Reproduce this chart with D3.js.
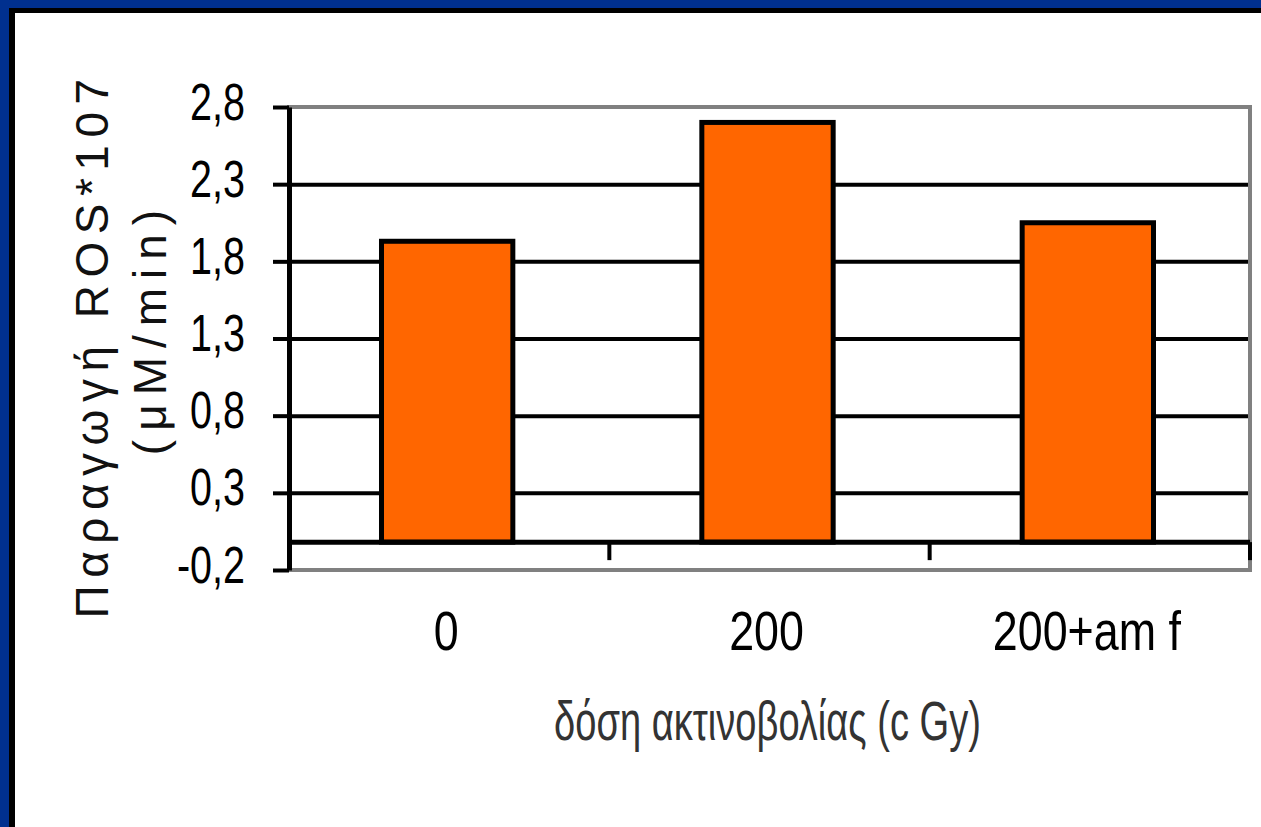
<!doctype html>
<html>
<head>
<meta charset="utf-8"/>
<script src="https://cdnjs.cloudflare.com/ajax/libs/d3/7.8.5/d3.min.js"></script>
<style>
  body { margin: 0; background: #fff; }
  svg { display: block; font-family: "Liberation Sans", Arial, sans-serif; }
  .grid line { stroke: #000; stroke-width: 4px; }
  .bar { fill: #FF6600; stroke: #000; stroke-width: 5px; }
  .frame { fill: none; stroke: #808080; stroke-width: 4px; }
</style>
</head>
<body>
<svg width="1261" height="827"></svg>
<script>
var categories = ["0", "200", "200+am f"];
var values = [1.93, 2.70, 2.05];
var yTicks = [-0.2, 0.3, 0.8, 1.3, 1.8, 2.3, 2.8];
var xTitle = "δόση ακτινοβολίας (c Gy)";
var yTitle1 = "Παραγωγή ROS*107";
var yTitle2 = "(μM/min)";

drawChart();

function drawChart() {
var svg = d3.select("svg");
var pLeft = 289, pRight = 1250, pTop = 107, pBottom = 570;

// blue slide border
svg.append("rect").attr("x", 0).attr("y", 0).attr("width", 1261).attr("height", 8).attr("fill", "#00308F");
svg.append("rect").attr("x", 0).attr("y", 0).attr("width", 9).attr("height", 827).attr("fill", "#00308F");
svg.append("rect").attr("x", 9).attr("y", 8).attr("width", 1252).attr("height", 5).attr("fill", "#000");
svg.append("rect").attr("x", 9).attr("y", 8).attr("width", 6).attr("height", 819).attr("fill", "#000");

var x = d3.scaleBand().domain(categories).range([pLeft, pRight]).padding(0);
var y = d3.scaleLinear().domain([-0.2, 2.8]).range([pBottom, pTop]);

// plot area border
svg.append("rect").attr("class", "frame")
  .attr("x", pLeft).attr("y", pTop)
  .attr("width", pRight - pLeft).attr("height", pBottom - pTop);

// gridlines
svg.append("g").attr("class", "grid")
  .attr("transform", "translate(" + pLeft + ",0)")
  .call(d3.axisLeft(y).tickValues(yTicks.slice(1, -1)).tickSize(-(pRight - pLeft - 2)).tickFormat(""))
  .call(g => g.select(".domain").remove());

// bars
var barW = x.bandwidth() * 0.41;
svg.append("g").selectAll("rect")
  .data(values)
  .enter()
  .append("rect")
  .attr("class", "bar")
  .attr("x", (d, i) => x(categories[i]) + x.bandwidth() / 2 - barW / 2 - 2)
  .attr("y", d => y(d))
  .attr("width", barW)
  .attr("height", d => y(0) + 3 - y(d));

// y axis
var sx = 0.76;
svg.append("g")
  .attr("transform", "translate(" + pLeft + ",0)")
  .call(d3.axisLeft(y).tickValues(yTicks).tickSize(16).tickSizeOuter(0)
    .tickFormat(d => d.toFixed(1).replace(".", ",")))
  .call(g => g.select(".domain").attr("stroke", "#000").attr("stroke-width", 5))
  .call(g => g.selectAll(".tick line").attr("stroke", "#000").attr("stroke-width", 4))
  .call(g => g.selectAll(".tick text")
    .attr("fill", "#000")
    .attr("font-size", 52)
    .attr("font-family", "Liberation Sans, Arial, sans-serif")
    .attr("text-anchor", "end")
    .attr("dy", null)
    .attr("y", 12)
    .attr("x", -44 / sx)
    .attr("transform", "scale(" + sx + ",1)"));

// category axis at zero
var xAxis = svg.append("g");
xAxis.append("line")
  .attr("x1", pLeft).attr("x2", pRight)
  .attr("y1", y(0) + 3).attr("y2", y(0) + 3)
  .attr("stroke", "#000").attr("stroke-width", 5);
xAxis.selectAll("line.tk")
  .data(categories)
  .enter()
  .append("line")
  .attr("class", "tk")
  .attr("x1", d => x(d) + x.bandwidth())
  .attr("x2", d => x(d) + x.bandwidth())
  .attr("y1", y(0) + 3).attr("y2", y(0) + 21)
  .attr("stroke", "#000").attr("stroke-width", 4);

// category labels
svg.append("g").selectAll("text")
  .data(categories)
  .enter()
  .append("text")
  .attr("transform", d => "translate(" + (x(d) + x.bandwidth() / 2 - 3) + ",650) scale(0.8,1)")
  .attr("text-anchor", "middle")
  .attr("font-size", 56)
  .attr("fill", "#000")
  .text(d => d);

// x axis title
svg.append("text")
  .attr("transform", "translate(" + ((pLeft + pRight) / 2 - 2) + ",740) scale(0.68,1)")
  .attr("text-anchor", "middle")
  .attr("font-size", 56)
  .attr("fill", "#333")
  .text(xTitle);

// y axis title, two lines
svg.append("text")
  .attr("transform", "translate(108,345) rotate(-90)")
  .attr("text-anchor", "middle")
  .attr("font-size", 46)
  .attr("letter-spacing", 7.5)
  .attr("fill", "#111")
  .text(yTitle1);

svg.append("text")
  .attr("transform", "translate(166,328) rotate(-90)")
  .attr("text-anchor", "middle")
  .attr("font-size", 46)
  .attr("letter-spacing", 9)
  .attr("fill", "#111")
  .text(yTitle2);
}
</script>
</body>
</html>
